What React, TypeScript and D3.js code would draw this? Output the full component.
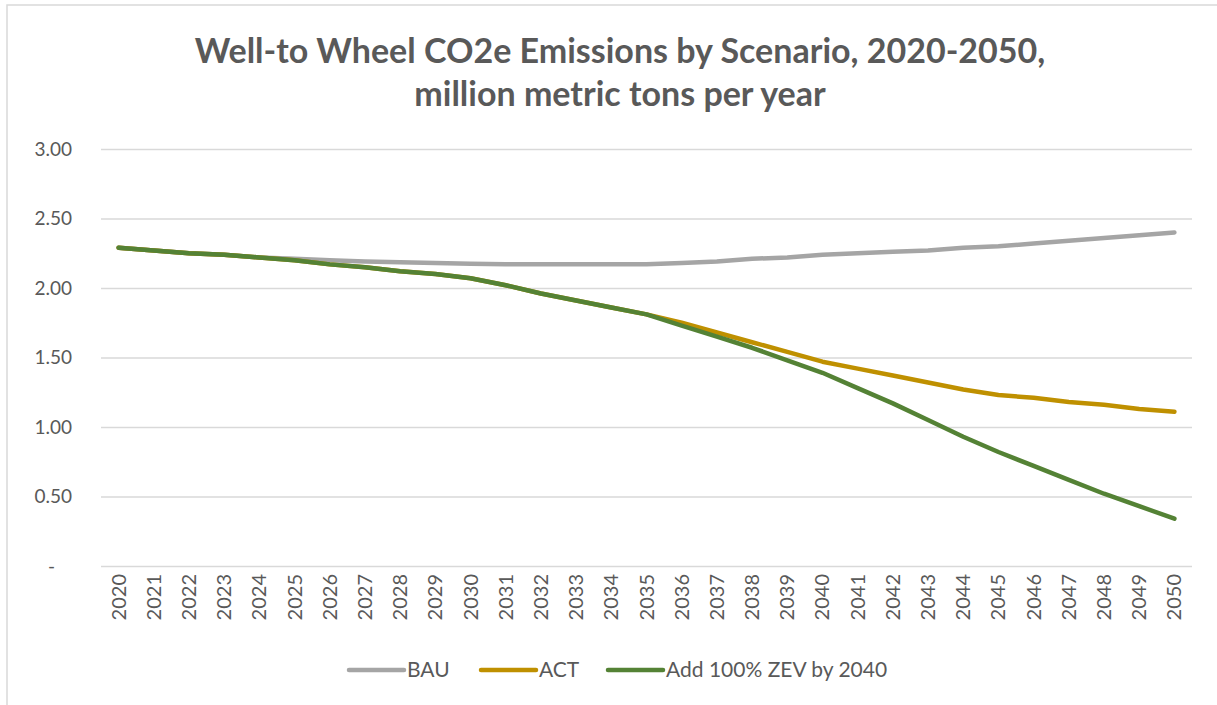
import React, { useEffect, useRef } from 'react';
import * as d3 from 'd3';

const years = d3.range(2020, 2051).map(String);
const bau = [2.29, 2.27, 2.25, 2.24, 2.22, 2.21, 2.2, 2.19, 2.185, 2.18, 2.175, 2.17, 2.17, 2.17, 2.17, 2.17,
  2.18, 2.19, 2.21, 2.22, 2.24, 2.25, 2.26, 2.27, 2.29, 2.3, 2.32, 2.34, 2.36, 2.38, 2.4];
const act = [2.29, 2.27, 2.25, 2.24, 2.22, 2.2, 2.17, 2.15, 2.12, 2.1, 2.07, 2.02, 1.96, 1.91, 1.86, 1.81,
  1.75, 1.68, 1.61, 1.54, 1.47, 1.42, 1.37, 1.32, 1.27, 1.23, 1.21, 1.18, 1.16, 1.13, 1.11];
const zev = [2.29, 2.27, 2.25, 2.24, 2.22, 2.2, 2.17, 2.15, 2.12, 2.1, 2.07, 2.02, 1.96, 1.91, 1.86, 1.81,
  1.73, 1.65, 1.57, 1.48, 1.39, 1.28, 1.17, 1.05, 0.93, 0.82, 0.72, 0.62, 0.52, 0.43, 0.34];
const seriesNames = ['BAU', 'ACT', 'Add 100% ZEV by 2040'];
const seriesColors = ['#a5a5a5', '#bf9000', '#548235'];
const yTicks = [0, 0.5, 1, 1.5, 2, 2.5, 3];
const titleLines = ['Well-to Wheel CO2e Emissions by Scenario, 2020-2050,', 'million metric tons per year'];

const App: React.FC = () => {
  const svgRef = useRef<SVGSVGElement | null>(null);

  useEffect(() => {
    const svg = d3.select(svgRef.current);
    svg.selectAll('*').remove();

    const width = 1217;
    const height = 705;
    const font = 'Lato, sans-serif';
    const textColor = '#595959';

    // chart frame (only top/left edges visible in the picture)
    svg.append('rect')
      .attr('x', 7).attr('y', 5).attr('width', 1230).attr('height', 720)
      .attr('fill', 'white').attr('stroke', '#d9d9d9').attr('stroke-width', 1.5);

    const x = d3.scaleBand().domain(years).range([101, 1192]);
    const y = d3.scaleLinear().domain([0, 3]).range([566, 149]);

    // title
    svg.append('g').selectAll('text')
      .data(titleLines)
      .enter()
      .append('text')
      .attr('x', 620)
      .attr('y', (_, i) => 63 + i * 43)
      .attr('text-anchor', 'middle')
      .attr('font-family', font)
      .attr('font-weight', 'bold')
      .attr('font-size', 34)
      .attr('fill', textColor)
      .text((d) => d);

    // grid + y labels
    const yAxis = d3.axisLeft(y).tickValues(yTicks).tickSize(-(1192 - 101)).tickPadding(29)
      .tickFormat((d) => (+d === 0 ? '-' : d3.format('.2f')(+d)));
    const gy = svg.append('g').attr('transform', 'translate(101,0)').call(yAxis);
    gy.select('.domain').remove();
    gy.selectAll('.tick line').attr('stroke', '#d9d9d9').attr('stroke-width', 1.3);
    gy.selectAll('.tick text').attr('font-family', font).attr('font-size', 19).attr('fill', textColor);
    gy.selectAll('.tick').filter((d) => d === 0).select('text').attr('dx', -17);

    // x labels
    const gx = svg.append('g').attr('transform', 'translate(0,566)')
      .call(d3.axisBottom(x).tickSize(0).tickPadding(0));
    gx.select('.domain').remove();
    gx.selectAll('.tick text')
      .attr('font-family', font).attr('font-size', 20).attr('fill', textColor)
      .attr('transform', 'rotate(-90)')
      .attr('text-anchor', 'end')
      .attr('x', -8).attr('y', 0).attr('dy', '0.35em');

    // lines
    const line = d3.line<number>()
      .x((_, i) => (x(years[i]) as number) + x.bandwidth() / 2)
      .y((d) => y(d));
    [bau, act, zev].forEach((vals, k) => {
      svg.append('path')
        .datum(vals)
        .attr('d', line)
        .attr('fill', 'none')
        .attr('stroke', seriesColors[k])
        .attr('stroke-width', 4.5)
        .attr('stroke-linecap', 'round')
        .attr('stroke-linejoin', 'round');
    });

    // legend
    const legendX = [349, 481, 608];
    const lg = svg.append('g').selectAll('g')
      .data(seriesNames)
      .enter()
      .append('g')
      .attr('transform', (_, i) => `translate(${legendX[i]},670)`);
    lg.append('line')
      .attr('x1', 0).attr('x2', 55).attr('y1', 0).attr('y2', 0)
      .attr('stroke', (_, i) => seriesColors[i])
      .attr('stroke-width', 4.5).attr('stroke-linecap', 'round');
    lg.append('text')
      .attr('x', 58).attr('y', 0).attr('dy', '0.35em')
      .attr('font-family', font).attr('font-size', 21).attr('fill', textColor)
      .text((d) => d);

    svg.attr('width', width).attr('height', height);
  }, []);

  return <svg ref={svgRef} style={{ position: 'absolute', left: 0, top: 0 }}></svg>;
};

export default App;
